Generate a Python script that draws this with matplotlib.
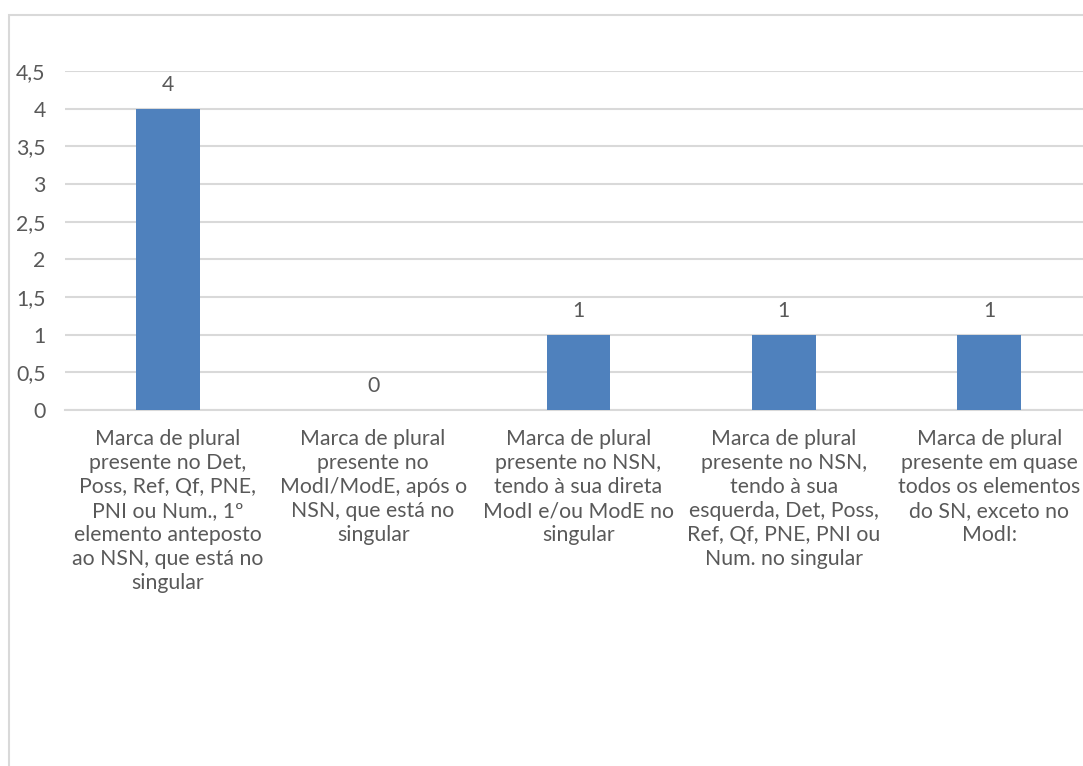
import matplotlib.pyplot as plt
from matplotlib.patches import Rectangle

plt.rcParams['font.family'] = ['Lato', 'DejaVu Sans']

categorias = [
    "Marca de plural\npresente no Det,\nPoss, Ref, Qf, PNE,\nPNI ou Num., 1º\nelemento anteposto\nao NSN, que está no\nsingular",
    "Marca de plural\npresente no\nModI/ModE, após o\nNSN, que está no\nsingular",
    "Marca de plural\npresente no NSN,\ntendo à sua direta\nModI e/ou ModE no\nsingular",
    "Marca de plural\npresente no NSN,\ntendo à sua\nesquerda, Det, Poss,\nRef, Qf, PNE, PNI ou\nNum. no singular",
    "Marca de plural\npresente em quase\ntodos os elementos\ndo SN, exceto no\nModI:",
]
valores = [4, 0, 1, 1, 1]
yticks = [0, 0.5, 1, 1.5, 2, 2.5, 3, 3.5, 4, 4.5]

cor_barra = '#4F81BD'
cor_texto = '#595959'
cor_grade = '#D9D9D9'
fs = 15.3

W, H = 1083, 766
fig = plt.figure(figsize=(W / 100, H / 100), dpi=100)

# moldura do gráfico (só topo e esquerda aparecem)
fig.patches.append(Rectangle((9 / W, -0.1), 1.2, (H - 15) / H + 0.1,
                             transform=fig.transFigure, fill=False,
                             edgecolor=cor_grade, linewidth=1.5))

x0, x1 = 65, 1092
y0, y1 = 410, 71
ax = fig.add_axes([x0 / W, 1 - y0 / H, (x1 - x0) / W, (y0 - y1) / H])

xs = list(range(len(valores)))
ax.bar(xs, valores, width=0.31, color=cor_barra, zorder=3)
ax.set_xlim(-0.5, len(valores) - 0.5)
ax.set_ylim(0, 4.5)

ax.set_yticks(yticks)
ax.set_yticklabels([f'{v:g}'.replace('.', ',') for v in yticks])
ax.yaxis.grid(True, color=cor_grade, linewidth=1.5, zorder=0)
ax.tick_params(axis='y', length=0, pad=14, labelsize=fs, labelcolor=cor_texto)

ax.set_xticks(xs)
ax.set_xticklabels(categorias, linespacing=1.25, va='top')
ax.tick_params(axis='x', length=0, pad=14, labelsize=fs, labelcolor=cor_texto)

for s in ['top', 'right', 'left']:
    ax.spines[s].set_visible(False)
ax.spines['bottom'].set_color(cor_grade)
ax.spines['bottom'].set_linewidth(1.5)

for x, v in zip(xs, valores):
    ax.annotate(f'{v}', (x, v), xytext=(0, 17), textcoords='offset points',
                ha='center', va='center', fontsize=fs, color=cor_texto)

fig.savefig('out.png', dpi=100)
